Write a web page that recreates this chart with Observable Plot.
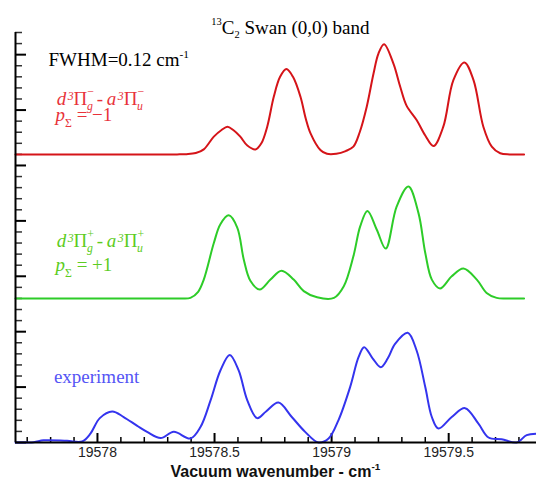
<!DOCTYPE html>
<html><head><meta charset="utf-8">
<script src="https://cdn.jsdelivr.net/npm/d3@7"></script>
<script src="https://cdn.jsdelivr.net/npm/@observablehq/plot@0.6"></script>
<style>body{margin:0;background:#fff}</style>
</head><body><div id="chart"></div>
<script>
// ---- data (wavenumber in cm^-1, intensity in axis minor-tick units above each trace baseline) ----
const xMajorTicks = [19578, 19578.5, 19579, 19579.5];
const xTickLabels = ["19578", "19578.5", "19579", "19579.5"];
const xMinorTicks = [19577.7, 19577.8, 19577.9, 19578.1, 19578.2, 19578.3, 19578.4, 19578.6, 19578.7, 19578.8, 19578.9, 19579.1, 19579.2, 19579.3, 19579.4, 19579.6, 19579.7, 19579.8];
const yMajorTicks = [0, 5, 10, 15, 20, 25, 30, 35];
const yMinorTicks = [1, 2, 3, 4, 6, 7, 8, 9, 11, 12, 13, 14, 16, 17, 18, 19, 21, 22, 23, 24, 26, 27, 28, 29, 31, 32, 33, 34, 36, 37];
const redOffset = 26;
const greenOffset = 13;
const blueOffset = 0;

const redWave = [19577.65, 19577.9, 19578.1, 19578.25, 19578.34, 19578.38, 19578.42, 19578.454, 19578.497, 19578.53, 19578.555, 19578.58, 19578.61, 19578.64, 19578.675, 19578.70, 19578.725, 19578.753, 19578.78, 19578.807, 19578.835, 19578.867, 19578.89, 19578.91, 19578.952, 19578.98, 19579.02, 19579.06, 19579.093, 19579.12, 19579.15, 19579.179, 19579.20, 19579.224, 19579.264, 19579.293, 19579.32, 19579.363, 19579.40, 19579.435, 19579.477, 19579.52, 19579.567, 19579.606, 19579.648, 19579.684, 19579.72, 19579.76, 19579.79, 19579.822];
const redInt  = [0, 0, 0, 0, 0, 0.02, 0.12, 0.45, 1.6, 2.2, 2.5, 2.2, 1.6, 0.8, 0.45, 1.0, 2.5, 5.2, 7.0, 7.7, 7.0, 5.2, 3.2, 1.9, 0.4, 0.05, 0.05, 0.3, 0.7, 2.0, 4.3, 7.3, 9.1, 9.95, 8.2, 6.1, 4.4, 3.1, 1.7, 0.75, 2.5, 6.7, 8.3, 6.7, 2.5, 0.7, 0.1, 0, 0, 0];

const greenWave = [19577.65, 19577.9, 19578.1, 19578.25, 19578.35, 19578.397, 19578.43, 19578.454, 19578.497, 19578.525, 19578.561, 19578.597, 19578.625, 19578.653, 19578.693, 19578.739, 19578.786, 19578.838, 19578.881, 19578.938, 19579.01, 19579.052, 19579.093, 19579.122, 19579.153, 19579.193, 19579.231, 19579.278, 19579.328, 19579.371, 19579.40, 19579.428, 19579.463, 19579.513, 19579.563, 19579.62, 19579.662, 19579.705, 19579.75, 19579.79, 19579.822];
const greenInt  = [0, 0, 0, 0, 0, 0.05, 0.6, 1.7, 5.0, 6.7, 7.5, 6.4, 3.5, 1.6, 0.8, 1.7, 2.5, 1.7, 0.66, 0.1, 0.05, 1.1, 3.8, 6.5, 7.9, 6.2, 4.5, 8.3, 10.1, 7.7, 4.1, 1.7, 0.9, 2.0, 2.7, 1.7, 0.5, 0.05, 0, 0, 0];

const blueWave = [19577.65, 19577.728, 19577.77, 19577.87, 19577.935, 19577.97, 19578.01, 19578.063, 19578.112, 19578.17, 19578.212, 19578.27, 19578.326, 19578.397, 19578.44, 19578.483, 19578.525, 19578.565, 19578.603, 19578.64, 19578.682, 19578.72, 19578.773, 19578.83, 19578.887, 19578.944, 19578.987, 19579.029, 19579.079, 19579.115, 19579.139, 19579.175, 19579.21, 19579.24, 19579.271, 19579.325, 19579.363, 19579.40, 19579.428, 19579.456, 19579.513, 19579.57, 19579.627, 19579.67, 19579.726, 19579.79, 19579.833, 19579.875];
const blueInt  = [0, 0.03, 0.2, 0.15, 0.1, 0.8, 2.2, 2.8, 2.3, 1.5, 0.96, 0.4, 0.96, 0.36, 1.4, 3.8, 6.5, 7.9, 6.5, 3.8, 2.2, 2.8, 3.6, 2.3, 0.96, 0.0, 0.36, 2.0, 5.0, 7.7, 8.6, 7.6, 6.8, 7.6, 8.9, 9.9, 8.3, 5.0, 2.3, 1.26, 2.3, 3.1, 1.7, 0.45, 0.3, 0.0, 0.66, 0.8];

const toRows = (w, v, off) => w.map((x, i) => ({x, y: v[i] + off}));
const redRows = toRows(redWave, redInt, redOffset);
const greenRows = toRows(greenWave, greenInt, greenOffset);
const blueRows = toRows(blueWave, blueInt, blueOffset);

const RED = "#d51419", GREEN = "#2dcc28", BLUE = "#3434ee";
const RED_T = "#e8323a", GREEN_T = "#5ccc22", BLUE_T = "#5555f5";
const SERIF = "Liberation Serif, Times New Roman, serif";
const SANS = "Liberation Sans, Arial, sans-serif";

const FRAME_H = 410, FRAME_W = 521;

// rich-text specs (keyed by the plain text that Plot writes)
const T = "\u2009";
const richSpecs = {
  "13C2 Swan (0,0) band": {fs: 19, parts: [{t: "13", sup: -0.5, scale: 0.55}, {t: "C"}, {t: "2", sub: 0.2, scale: 0.55}, {t: " Swan (0,0) band"}]},
  "FWHM=0.12 cm-1": {fs: 19, parts: [{t: "FWHM=0.12 cm"}, {t: "-1", sup: -0.42, scale: 0.6}]},
  "d3Π-g - a3Π-u": {fs: 19, parts: [{t: "d", i: 1}, {t: "3", sup: -0.3, i: 1, dx: 1.5}, {t: "Π"}, {t: "\u2212", sup: -0.52}, {t: "g", sub: 0.26, i: 1, dx: -7}, {t: T + "-" + T}, {t: "a", i: 1}, {t: "3", sup: -0.3, i: 1, dx: 1.5}, {t: "Π"}, {t: "\u2212", sup: -0.52}, {t: "u", sub: 0.26, i: 1, dx: -7}]},
  "d3Π+g - a3Π+u": {fs: 19, parts: [{t: "d", i: 1}, {t: "3", sup: -0.3, i: 1, dx: 1.5}, {t: "Π"}, {t: "+", sup: -0.52}, {t: "g", sub: 0.26, i: 1, dx: -7}, {t: T + "-" + T}, {t: "a", i: 1}, {t: "3", sup: -0.3, i: 1, dx: 1.5}, {t: "Π"}, {t: "+", sup: -0.52}, {t: "u", sub: 0.26, i: 1, dx: -7}]},
  "pΣ = -1": {fs: 19, parts: [{t: "p", i: 1}, {t: "Σ", sub: 0.3}, {t: " = \u22121"}]},
  "pΣ = +1": {fs: 19, parts: [{t: "p", i: 1}, {t: "Σ", sub: 0.3}, {t: " = +1"}]},
  "Vacuum wavenumber - cm-1": {fs: 16, parts: [{t: "Vacuum wavenumber - cm"}, {t: "-1", sup: -0.45, scale: 0.62}]}
};

const label = (txt, x, y, opts) => Plot.text([txt], {x, y, text: d => d, lineAnchor: "bottom", textAnchor: "start", fontFamily: SERIF, fontSize: 19, ...opts});

const chart = Plot.plot({
  width: 536, height: 479,
  marginLeft: 15, marginRight: 0, marginTop: 32, marginBottom: 37,
  x: {domain: [19577.65, 19579.875], axis: null},
  y: {domain: [0, 37], axis: null},
  style: {background: "#fff"},
  marks: [
    // tick marks (inside)
    Plot.tickX(xMinorTicks, {x: d => d, insetTop: FRAME_H - 5, stroke: "#000", strokeWidth: 1.5}),
    Plot.tickX(xMajorTicks, {x: d => d, insetTop: FRAME_H - 9, stroke: "#000", strokeWidth: 2}),
    Plot.tickY(yMinorTicks, {y: d => d, insetRight: FRAME_W - 7, stroke: "#333", strokeWidth: 1.5}),
    Plot.tickY(yMajorTicks, {y: d => d, insetRight: FRAME_W - 11, stroke: "#000", strokeWidth: 2}),
    Plot.axisX(xMajorTicks, {tickSize: 0, tickPadding: 5, label: null, tickFormat: (d, i) => xTickLabels[i], fontSize: 14, fontFamily: SANS, fill: "#222"}),
    // curves
    Plot.line(redRows, {x: "x", y: "y", stroke: RED, strokeWidth: 2, curve: "catmull-rom"}),
    Plot.line(greenRows, {x: "x", y: "y", stroke: GREEN, strokeWidth: 2, curve: "catmull-rom"}),
    Plot.line(blueRows, {x: "x", y: "y", stroke: BLUE, strokeWidth: 2, curve: "catmull-rom"}),
    // axis lines
    Plot.ruleY([0], {stroke: "#000", strokeWidth: 2}),
    Plot.ruleX([19577.65], {stroke: "#000", strokeWidth: 2}),
    // annotations
    label("13C2 Swan (0,0) band", 19578.824, 36.85, {textAnchor: "middle", fill: "#000"}),
    label("FWHM=0.12 cm-1", 19577.791, 33.96, {fill: "#000"}),
    label("d3Π-g - a3Π-u", 19577.826, 30.44, {fill: RED_T}),
    label("pΣ = -1", 19577.821, 29.0, {fill: RED_T}),
    label("d3Π+g - a3Π+u", 19577.826, 17.6, {fill: GREEN_T}),
    label("pΣ = +1", 19577.821, 15.49, {fill: GREEN_T}),
    label("experiment", 19577.814, 5.35, {fill: BLUE_T}),
    label("Vacuum wavenumber - cm-1", 19578.760, -3.13, {textAnchor: "middle", fontFamily: SANS, fontWeight: "bold", fontSize: 16, fill: "#111"})
  ]
});

const NS = "http://www.w3.org/2000/svg";
chart.querySelectorAll("text").forEach(el => {
  const spec = richSpecs[el.textContent];
  if (!spec) return;
  el.textContent = "";
  let shift = 0;
  for (const p of spec.parts) {
    const ts = document.createElementNS(NS, "tspan");
    const small = p.sup !== undefined || p.sub !== undefined;
    const target = (p.sup !== undefined ? p.sup : p.sub !== undefined ? p.sub : 0) * spec.fs;
    const dy = target - shift; shift = target;
    if (dy) ts.setAttribute("dy", dy.toFixed(2));
    if (p.dx) ts.setAttribute("dx", p.dx);
    if (small) ts.setAttribute("font-size", ((p.scale || 0.62) * spec.fs).toFixed(2));
    if (p.i) ts.setAttribute("font-style", "italic");
    ts.textContent = p.t;
    el.appendChild(ts);
  }
});
document.getElementById("chart").appendChild(chart);
</script>
</body></html>
